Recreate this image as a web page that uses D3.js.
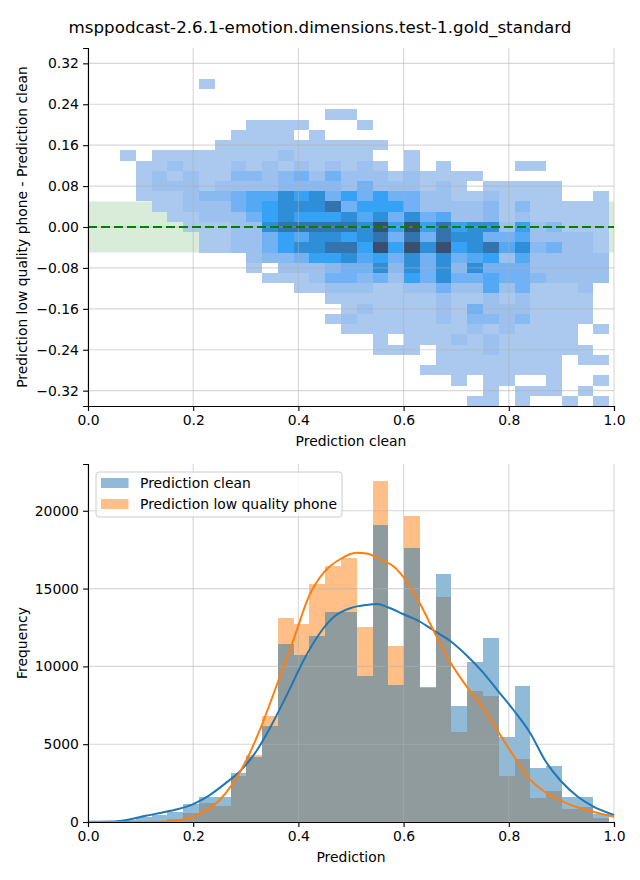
<!DOCTYPE html>
<html><head><meta charset="utf-8">
<script src="https://cdn.jsdelivr.net/npm/d3@7"></script>
<style>
body{margin:0;background:#fff;}
text{font-family:"DejaVu Sans",sans-serif;fill:#000;}
</style>
</head><body>
<svg id="chart" width="640" height="880"></svg>
<script>
// ---------- DATA ----------
const title = "msppodcast-2.6.1-emotion.dimensions.test-1.gold_standard";
const binStart = 0.061, binWidth = 0.03, nBins = 31;      // x bins (shared)
const yBinTop = 0.29, yBinHeight = 0.02;                     // 2D hist rows, top to bottom
// 2D histogram intensity level per cell (0 = empty, 1..9 = low..high), row 0 = top
const heatRows = [
"0000010000000000000000000000000",
"0000000000000000000000000000000",
"0000000000000000000000000000000",
"0000000000000110000000000000000",
"0000000011110001000000000000000",
"0000000111101000000000000000000",
"0000001111111111100000000000000",
"1011111111211111001000000000000",
"0112111212121212101010000110000",
"0121211332342422212111100000000",
"0122212222333324222121011111000",
"0111233455767464644221121111001",
"0011222456777846664222231311111",
"0001122246766675747452231211111",
"0000111227888887969686772623111",
"0000011224657767848487744522221",
"0000011224677886969796785734221",
"0000000023346675647474562522222",
"0000000010222344737473744422222",
"0000000001112443426474454432222",
"0000000000011222112242252411120",
"0000000000000111111121121211110",
"0000000000000012111121422211110",
"0000000000000121111121332311110",
"0000000000000011111111212111101",
"0000000000000000101112121111100",
"0000000000000000111011121111110",
"0000000000000000000011111111011",
"0000000000000000000111111111000",
"0000000000000000000001011001001",
"0000000000000000000000010111010",
"0000000000000000000000110100101"
];
const levelColors = ["#abc8ee","#9dc1ef","#89b9f1","#72b1f3","#54a9f4","#35a2f5","#2e8fd8","#3473ad","#3a4f70"];
const bandHalf = 0.05;
const topYTicks = [0.32,0.24,0.16,0.08,0.0,-0.08,-0.16,-0.24,-0.32];
const xTicks = [0,0.2,0.4,0.6,0.8,1.0];
const countTicks = [0,5000,10000,15000,20000];

const cleanCounts = [150,300,450,650,1150,1600,1600,3150,4180,6170,11460,10750,11950,13500,13500,9400,19090,8800,17610,8680,15940,7450,10280,11820,5460,8740,3470,3600,1600,1600,500];
const phoneCounts = [0,30,80,200,580,1200,1050,2980,4310,6810,13110,12720,15300,16450,16970,12530,21910,11310,19670,8620,14460,5780,8420,8100,2960,4050,1540,1990,840,960,280];

const kdeCleanX = [0.00,0.05,0.08,0.11,0.14,0.17,0.20,0.23,0.26,0.29,0.32,0.35,0.38,0.41,0.44,0.47,0.50,0.53,0.55,0.57,0.60,0.63,0.66,0.69,0.72,0.75,0.78,0.81,0.84,0.87,0.90,0.93,0.96,1.00];
const kdeClean  = [15,30,170,400,600,820,1150,1700,2450,3300,4550,6300,8300,10400,12100,13250,13750,13950,14010,13800,13350,12900,12250,11600,10700,9650,8400,7150,5750,3900,2600,1650,1000,450];
const kdePhoneX = [0.00,0.10,0.14,0.175,0.20,0.25,0.30,0.33,0.36,0.39,0.42,0.45,0.48,0.51,0.53,0.56,0.58,0.61,0.63,0.66,0.69,0.72,0.75,0.78,0.81,0.84,0.87,0.91,0.96,1.00];
const kdePhone  = [0,0,20,130,340,1400,3900,6200,8900,11650,14500,16100,16900,17300,17250,16800,16450,15250,14100,12100,10200,8700,7400,5800,4200,2750,1900,1200,660,340];

// ---------- DRAW ----------
const svg = d3.select("#chart");
const FS = 13.9;
const fmtTop = v => d3.format(".2f")(v).replace("-", "\u2212");

const x = d3.scaleLinear().domain([0,1]).range([88,614]);
const yTop = d3.scaleLinear().domain([-0.35,0.35]).range([406,48]);
const yBot = d3.scaleLinear().domain([0, d3.max(cleanCounts.concat(phoneCounts))*1.05]).range([822,464]);
const color = d3.scaleLinear().domain(d3.range(1,10)).range(levelColors);
const gridStroke = "#b0b0b0", gridOp = 0.5;

svg.append("text").attr("x",320).attr("y",33).attr("text-anchor","middle")
  .style("font-size","16.7px").text(title);

// ---- top panel ----
const gT = svg.append("g");
gT.append("rect").attr("x",x(0)).attr("width",x(1)-x(0))
  .attr("y",yTop(bandHalf)).attr("height",yTop(-bandHalf)-yTop(bandHalf))
  .attr("fill","green").attr("fill-opacity",0.15);

const cells = [];
heatRows.forEach((row,r)=>{
  for(let c=0;c<nBins;c++){
    const lv = +row[c];
    if(lv>0) cells.push({r,c,lv});
  }
});
gT.selectAll("rect.cell").data(cells).join("rect").attr("class","cell")
  .attr("x",d=>x(binStart+d.c*binWidth))
  .attr("width",d=>x(binStart+(d.c+1)*binWidth)-x(binStart+d.c*binWidth))
  .attr("y",d=>yTop(yBinTop-d.r*yBinHeight))
  .attr("height",d=>yTop(yBinTop-(d.r+1)*yBinHeight)-yTop(yBinTop-d.r*yBinHeight))
  .attr("fill",d=>color(d.lv))
  .attr("shape-rendering","crispEdges");

// grid top
gT.selectAll("line.gx").data(xTicks).join("line")
  .attr("x1",d=>x(d)).attr("x2",d=>x(d)).attr("y1",48).attr("y2",406)
  .attr("stroke",gridStroke).attr("stroke-opacity",gridOp).attr("stroke-width",1.1);
gT.selectAll("line.gy").data(topYTicks).join("line")
  .attr("y1",d=>yTop(d)).attr("y2",d=>yTop(d)).attr("x1",88).attr("x2",614)
  .attr("stroke",gridStroke).attr("stroke-opacity",gridOp).attr("stroke-width",1.1);

gT.append("line").attr("x1",x(0)).attr("x2",x(1)).attr("y1",yTop(0)).attr("y2",yTop(0))
  .attr("stroke","#008000").attr("stroke-width",2).attr("stroke-dasharray","9,4");

svg.append("g").attr("transform","translate(0,406)")
  .call(d3.axisBottom(x).tickValues(xTicks).tickFormat(d3.format(".1f")).tickSize(4.9).tickPadding(4.2));
svg.append("g").attr("transform","translate(88,0)")
  .call(d3.axisLeft(yTop).tickValues(topYTicks).tickFormat(fmtTop).tickSize(4.9).tickPadding(4.2));

svg.append("text").attr("x",351).attr("y",446).attr("text-anchor","middle")
  .style("font-size",FS+"px").text("Prediction clean");
svg.append("text").attr("transform","translate(27,227) rotate(-90)").attr("text-anchor","middle")
  .style("font-size",FS+"px").text("Prediction low quality phone - Prediction clean");

// ---- bottom panel ----
const gB = svg.append("g");
const bars = d3.range(nBins).map(i=>({i, clean:cleanCounts[i], phone:phoneCounts[i]}));
const bx0 = d=>x(binStart+d.i*binWidth), bw = d=>x(binStart+(d.i+1)*binWidth)-x(binStart+d.i*binWidth);
gB.selectAll("rect.ph").data(bars).join("rect").attr("class","ph")
  .attr("x",bx0).attr("width",bw).attr("y",d=>yBot(d.phone)).attr("height",d=>yBot(0)-yBot(d.phone))
  .attr("fill","#ff7f0e").attr("fill-opacity",0.5).attr("shape-rendering","crispEdges");
gB.selectAll("rect.cl").data(bars).join("rect").attr("class","cl")
  .attr("x",bx0).attr("width",bw).attr("y",d=>yBot(d.clean)).attr("height",d=>yBot(0)-yBot(d.clean))
  .attr("fill","#1f77b4").attr("fill-opacity",0.5).attr("shape-rendering","crispEdges");

gB.selectAll("line.gx").data(xTicks).join("line")
  .attr("x1",d=>x(d)).attr("x2",d=>x(d)).attr("y1",464).attr("y2",822)
  .attr("stroke",gridStroke).attr("stroke-opacity",gridOp).attr("stroke-width",1.1);
gB.selectAll("line.gy").data(countTicks).join("line")
  .attr("y1",d=>yBot(d)).attr("y2",d=>yBot(d)).attr("x1",88).attr("x2",614)
  .attr("stroke",gridStroke).attr("stroke-opacity",gridOp).attr("stroke-width",1.1);

const line = d3.line().x(d=>x(d[0])).y(d=>yBot(d[1])).curve(d3.curveMonotoneX);
gB.append("path").attr("d",line(kdeCleanX.map((v,i)=>[v,kdeClean[i]])))
  .attr("fill","none").attr("stroke","#1f77b4").attr("stroke-width",2);
gB.append("path").attr("d",line(kdePhoneX.map((v,i)=>[v,kdePhone[i]])))
  .attr("fill","none").attr("stroke","#ff7f0e").attr("stroke-width",2);

svg.append("g").attr("transform","translate(0,822)")
  .call(d3.axisBottom(x).tickValues(xTicks).tickFormat(d3.format(".1f")).tickSize(4.9).tickPadding(4.2));
svg.append("g").attr("transform","translate(88,0)")
  .call(d3.axisLeft(yBot).tickValues(countTicks).tickFormat(d3.format("d")).tickSize(4.9).tickPadding(4.2));

svg.append("text").attr("x",351).attr("y",862).attr("text-anchor","middle")
  .style("font-size",FS+"px").text("Prediction");
svg.append("text").attr("transform","translate(27,643) rotate(-90)").attr("text-anchor","middle")
  .style("font-size",FS+"px").text("Frequency");

// legend
const lg = svg.append("g");
lg.append("rect").attr("x",96).attr("y",472).attr("width",246).attr("height",45).attr("rx",3)
  .attr("fill","#fff").attr("fill-opacity",0.8).attr("stroke","#cccccc").attr("stroke-width",1);
const legendItems = [["Prediction clean","#1f77b4"],["Prediction low quality phone","#ff7f0e"]];
legendItems.forEach((it,i)=>{
  lg.append("rect").attr("x",101).attr("y",478+i*21).attr("width",27.5).attr("height",10)
    .attr("fill",it[1]).attr("fill-opacity",0.5);
  lg.append("text").attr("x",140).attr("y",488+i*21).style("font-size",FS+"px").text(it[0]);
});

// axis styling
svg.selectAll(".domain").attr("stroke","#000").attr("stroke-width",1.1);
svg.selectAll(".tick line").attr("stroke","#000").attr("stroke-width",1.1);
svg.selectAll(".tick text").style("font-size",FS+"px").style("font-family","DejaVu Sans, sans-serif");
</script>
</body></html>
